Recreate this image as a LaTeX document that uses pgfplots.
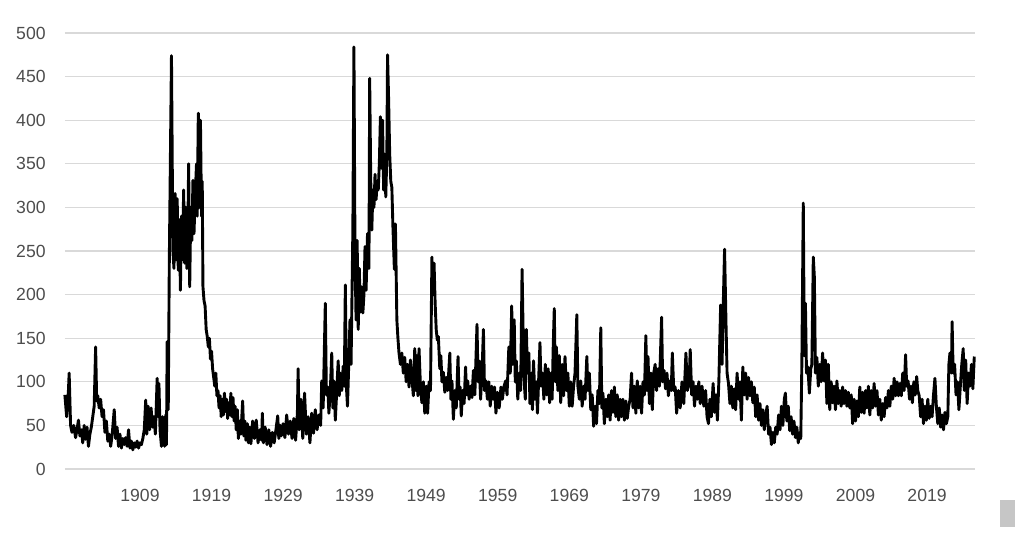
\documentclass[border=0pt]{standalone}
\usepackage{pgfplots}
\pgfplotsset{compat=1.18}
\usepackage{fontspec}
\setmainfont{Liberation Sans}
\definecolor{gridgray}{HTML}{D9D9D9}
\definecolor{labgray}{HTML}{4D4D4D}
\begin{document}
\begin{tikzpicture}
\path[use as bounding box] (-32.5pt,-34.5pt) rectangle (479.5pt,234.5pt);
\begin{axis}[
  scale only axis,
  width=455pt, height=218pt,
  xmin=1898.52, xmax=2025.7,
  ymin=0, ymax=500,
  ytick={0,50,...,500},
  xtick={1909,1919,1929,1939,1949,1959,1969,1979,1989,1999,2009,2019},
  xticklabels={1909,1919,1929,1939,1949,1959,1969,1979,1989,1999,2009,2019},
  /pgf/number format/assume math mode=true,
  ymajorgrids,
  grid style={gridgray, line width=0.6pt},
  axis line style={draw=none},
  major tick length=0pt,
  tick label style={font=\fontsize{8.8pt}{10pt}\selectfont, text=labgray},
  yticklabel style={anchor=east, inner sep=0pt, xshift=-9.5pt},
  xticklabel style={anchor=north, inner sep=0pt, yshift=-10pt},
  clip=false,
]
\addplot[black, line width=1.45pt, line join=round, mark=none] coordinates {
(1898.50,85) (1898.75,60) (1899.00,90) (1899.10,110) (1899.30,50) (1899.50,42) (1899.75,50)
(1900.00,36) (1900.25,48) (1900.40,56) (1900.60,38) (1900.80,45) (1901.00,30) (1901.20,50)
(1901.40,34) (1901.60,48) (1901.80,26) (1902.00,40) (1902.20,48) (1902.40,60) (1902.60,72)
(1902.80,140) (1902.95,78) (1903.10,84) (1903.30,70) (1903.50,80) (1903.70,60) (1903.90,68)
(1904.10,42) (1904.30,55) (1904.50,32) (1904.70,40) (1904.90,26) (1905.10,38) (1905.40,68)
(1905.60,35) (1905.80,48) (1906.00,26) (1906.20,40) (1906.40,24) (1906.60,35) (1906.80,28)
(1907.00,36) (1907.20,26) (1907.40,45) (1907.60,24) (1907.80,32) (1908.00,22) (1908.20,30)
(1908.40,25) (1908.60,32) (1908.80,24) (1909.00,30) (1909.20,28) (1909.40,35) (1909.60,45)
(1909.80,79) (1909.95,40) (1910.15,72) (1910.35,45) (1910.55,70) (1910.75,48) (1910.95,60)
(1911.15,40) (1911.40,104) (1911.55,60) (1911.65,98) (1911.80,45) (1912.00,26) (1912.15,60)
(1912.30,50) (1912.45,26) (1912.60,62) (1912.70,28) (1912.80,146) (1912.95,68) (1913.10,240)
(1913.40,474) (1913.60,250)
(1913.75,230) (1913.90,316) (1914.05,240) (1914.20,310) (1914.35,228) (1914.50,286) (1914.65,205)
(1914.80,290) (1914.95,240) (1915.10,320) (1915.25,236) (1915.40,300) (1915.55,230) (1915.70,280)
(1915.80,350) (1915.95,209) (1916.10,300) (1916.25,262) (1916.40,331) (1916.55,270) (1916.70,310)
(1916.90,350) (1917.00,290) (1917.15,408) (1917.30,300) (1917.45,400) (1917.60,290) (1917.70,330)
(1917.80,209) (1917.95,193) (1918.10,187) (1918.25,160) (1918.40,152) (1918.55,140) (1918.70,150)
(1918.85,126) (1919.00,135) (1919.15,115) (1919.30,105) (1919.45,95) (1919.60,110) (1919.75,84)
(1919.90,90) (1920.05,70) (1920.20,84) (1920.35,60) (1920.50,80) (1920.65,62) (1920.80,87)
(1920.95,66) (1921.10,80) (1921.25,58) (1921.40,76) (1921.55,62) (1921.70,87) (1921.85,60)
(1922.00,82) (1922.15,55) (1922.30,72) (1922.45,45) (1922.60,68) (1922.75,35) (1922.90,55)
(1923.10,40) (1923.35,78) (1923.50,38) (1923.65,55) (1923.80,33) (1924.00,52) (1924.15,30)
(1924.35,48) (1924.50,29) (1924.75,55) (1925.00,35) (1925.25,56) (1925.50,30) (1925.75,45)
(1926.00,33) (1926.10,64) (1926.25,30) (1926.50,48) (1926.75,28) (1927.00,45) (1927.25,26)
(1927.50,42) (1927.75,30) (1928.00,45) (1928.25,61) (1928.40,35) (1928.60,50) (1928.75,38)
(1929.00,52) (1929.25,36) (1929.50,62) (1929.75,40) (1930.00,55) (1930.25,35)
(1930.50,58) (1930.75,33) (1931.00,64) (1931.10,115) (1931.25,45) (1931.50,80) (1931.75,35)
(1932.00,87) (1932.25,40) (1932.50,60) (1932.75,30) (1933.00,64) (1933.25,41) (1933.50,68)
(1933.75,45) (1934.00,62) (1934.25,50) (1934.40,101) (1934.60,70) (1934.90,190) (1935.05,85)
(1935.25,94) (1935.40,64) (1935.60,90) (1935.80,133) (1935.95,70) (1936.10,101) (1936.30,56)
(1936.50,90) (1936.70,124) (1936.85,84) (1937.00,110) (1937.20,90) (1937.40,118) (1937.55,95)
(1937.70,211) (1937.85,94) (1938.00,72) (1938.15,113) (1938.35,171) (1938.50,120) (1938.75,274)
(1938.90,484) (1939.05,247) (1939.20,171) (1939.35,262) (1939.50,160) (1939.65,230) (1939.80,180)
(1939.95,209) (1940.15,179) (1940.30,200) (1940.45,255) (1940.60,205) (1940.80,270) (1941.00,230)
(1941.10,448) (1941.25,331) (1941.40,274) (1941.55,320) (1941.70,300) (1941.85,338) (1942.00,309)
(1942.15,330) (1942.30,320) (1942.45,350) (1942.60,404) (1942.75,345) (1942.90,400) (1943.05,320)
(1943.20,361) (1943.35,312) (1943.50,360) (1943.60,475) (1943.75,423) (1943.90,361) (1944.05,330)
(1944.20,323) (1944.35,278) (1944.55,229) (1944.70,281) (1944.90,171) (1945.05,150) (1945.20,133)
(1945.40,120) (1945.60,133) (1945.80,110) (1946.00,128) (1946.20,100) (1946.40,120)
(1946.60,94) (1946.80,125) (1947.00,106) (1947.20,84) (1947.40,138) (1947.55,90) (1947.70,130)
(1947.85,84) (1948.00,138) (1948.20,94) (1948.40,76) (1948.60,100) (1948.80,64) (1949.00,95)
(1949.20,64) (1949.40,100) (1949.60,90) (1949.80,243) (1949.95,200) (1950.10,236) (1950.25,190)
(1950.40,160) (1950.55,148) (1950.70,152) (1950.90,115) (1951.05,130) (1951.20,100) (1951.40,111)
(1951.60,88) (1951.80,105) (1952.00,90) (1952.30,133) (1952.45,80) (1952.60,101) (1952.80,57)
(1953.00,90) (1953.20,70) (1953.45,129) (1953.60,80) (1953.75,94) (1953.90,61) (1954.10,90)
(1954.30,75) (1954.50,117) (1954.65,85) (1954.80,101) (1955.00,80) (1955.20,95) (1955.40,82)
(1955.60,113) (1955.80,85) (1956.10,166) (1956.25,100) (1956.40,124) (1956.60,80) (1956.80,110)
(1957.00,160) (1957.15,90) (1957.35,101) (1957.55,80) (1957.75,100) (1957.95,72) (1958.15,95)
(1958.35,80) (1958.55,94) (1958.75,64) (1958.95,88) (1959.20,70) (1959.45,94) (1959.65,80)
(1959.85,94) (1960.10,101) (1960.30,85) (1960.55,140) (1960.75,110) (1960.95,187) (1961.10,120)
(1961.30,171) (1961.45,100) (1961.60,124) (1961.80,80) (1962.00,110) (1962.20,90) (1962.40,229)
(1962.55,155) (1962.70,100) (1962.85,80) (1963.00,160) (1963.15,110) (1963.35,133) (1963.50,75)
(1963.70,110) (1963.85,68) (1964.00,124) (1964.20,80) (1964.40,100) (1964.55,64) (1964.75,110)
(1964.90,145) (1965.05,95) (1965.25,110) (1965.45,80) (1965.65,120) (1965.85,85) (1966.05,115)
(1966.25,76) (1966.45,110) (1966.60,80) (1966.75,140) (1966.90,184) (1967.05,100) (1967.20,140)
(1967.40,90) (1967.60,130) (1967.80,76) (1968.00,120) (1968.20,84) (1968.40,129) (1968.60,90)
(1968.80,110) (1969.00,72) (1969.20,100) (1969.40,72) (1969.60,95) (1969.80,110) (1970.05,177)
(1970.20,95) (1970.40,80) (1970.60,101) (1970.80,72) (1971.00,95) (1971.20,80) (1971.45,129)
(1971.60,90) (1971.80,110) (1972.00,68) (1972.20,85) (1972.40,49) (1972.60,72) (1972.80,52)
(1973.00,90) (1973.20,75) (1973.40,162) (1973.55,70) (1973.70,87) (1973.90,52) (1974.10,80)
(1974.30,60) (1974.50,85) (1974.70,56) (1974.90,90) (1975.10,65) (1975.30,94) (1975.50,60)
(1975.70,85) (1975.90,56) (1976.10,80) (1976.30,60) (1976.50,80) (1976.70,56) (1976.90,78)
(1977.10,58) (1977.30,72) (1977.50,80) (1977.70,110) (1977.90,70) (1978.10,95) (1978.30,64)
(1978.50,101)
(1978.70,70) (1978.90,95) (1979.10,64) (1979.30,100) (1979.50,85) (1979.70,153) (1979.85,90)
(1980.00,129) (1980.20,75) (1980.40,110) (1980.60,68) (1980.80,110) (1981.00,120) (1981.20,90)
(1981.40,115) (1981.60,95) (1981.90,174) (1982.05,100) (1982.25,113) (1982.45,92) (1982.65,110)
(1982.85,84) (1983.05,101) (1983.25,90) (1983.40,133) (1983.60,90) (1983.80,94) (1984.00,64)
(1984.25,90) (1984.50,70) (1984.75,100) (1985.00,75) (1985.30,133) (1985.50,90) (1985.75,100)
(1985.90,137) (1986.10,85) (1986.30,100) (1986.50,72) (1986.70,95) (1986.90,80) (1987.10,100)
(1987.30,75) (1987.55,95) (1987.80,72) (1988.05,90) (1988.25,60) (1988.45,52) (1988.65,80)
(1988.85,60) (1989.10,98) (1989.30,65) (1989.50,85) (1989.70,56) (1989.90,100) (1990.15,188)
(1990.35,120) (1990.55,200) (1990.70,252) (1990.90,167) (1991.05,110) (1991.25,98) (1991.45,75)
(1991.65,95) (1991.85,70) (1992.05,92) (1992.25,68) (1992.45,110) (1992.65,80) (1992.85,100)
(1993.05,56) (1993.25,117) (1993.45,85) (1993.65,110) (1993.85,80) (1994.05,105) (1994.25,84)
(1994.45,100)
(1994.65,76) (1994.85,94) (1995.05,60) (1995.25,85) (1995.45,56) (1995.65,75) (1995.85,50)
(1996.05,68) (1996.25,45) (1996.45,62) (1996.65,72) (1996.85,40) (1997.05,48) (1997.25,28)
(1997.45,42) (1997.65,30) (1997.85,48) (1998.05,40) (1998.25,62) (1998.45,45) (1998.65,72)
(1998.85,50) (1999.05,80) (1999.20,87) (1999.40,55) (1999.60,72) (1999.80,44) (2000.00,60)
(2000.20,40) (2000.40,55) (2000.60,36) (2000.80,48) (2001.00,30) (2001.20,42) (2001.35,35)
(2001.50,120) (2001.70,305) (2001.85,130) (2002.00,190) (2002.15,110) (2002.35,117) (2002.55,87)
(2002.75,115) (2002.90,120) (2003.10,243) (2003.25,220) (2003.40,110) (2003.60,128) (2003.80,95)
(2004.00,120) (2004.20,100) (2004.40,133) (2004.60,101) (2004.80,125) (2005.00,75) (2005.20,120)
(2005.40,68) (2005.60,100) (2005.80,76) (2006.00,95) (2006.20,68) (2006.40,101) (2006.60,75)
(2006.80,90) (2007.00,72) (2007.20,94) (2007.40,75) (2007.60,90) (2007.80,72) (2008.00,88)
(2008.20,70) (2008.40,85) (2008.60,52) (2008.80,80) (2009.00,55) (2009.20,78) (2009.40,60)
(2009.60,94) (2009.80,65) (2010.00,88) (2010.20,64) (2010.40,90) (2010.60,70)
(2010.80,95) (2011.00,62) (2011.20,90) (2011.40,70) (2011.60,98) (2011.80,72) (2012.00,90)
(2012.20,62) (2012.40,80) (2012.60,56) (2012.80,75) (2013.00,60) (2013.20,82) (2013.40,70)
(2013.60,90) (2013.80,72) (2014.00,95) (2014.20,80) (2014.40,104) (2014.60,84) (2014.80,100)
(2015.00,84) (2015.20,98) (2015.40,84) (2015.60,110) (2015.80,90) (2016.00,131) (2016.15,95)
(2016.35,101) (2016.55,80) (2016.75,95) (2016.95,76) (2017.15,100) (2017.35,85) (2017.55,106)
(2017.70,90) (2017.90,84) (2018.10,60) (2018.30,80) (2018.50,52) (2018.70,72) (2018.90,56)
(2019.10,80) (2019.30,58) (2019.50,72) (2019.70,60) (2019.90,85) (2020.10,104) (2020.30,72)
(2020.50,52) (2020.70,70) (2020.90,48) (2021.10,62) (2021.30,45) (2021.50,65) (2021.70,52)
(2021.90,60) (2022.05,120) (2022.20,133) (2022.40,110) (2022.50,169) (2022.65,110) (2022.85,120)
(2023.05,85) (2023.25,100) (2023.45,68) (2023.65,95) (2023.85,120) (2024.05,138) (2024.20,90)
(2024.40,125) (2024.60,75) (2024.80,110) (2025.00,95) (2025.20,120) (2025.40,92) (2025.60,129)
};
\end{axis}
\fill[gray!45] (467.5pt,-15.5pt) rectangle (475pt,-29pt);
\end{tikzpicture}
\end{document}
